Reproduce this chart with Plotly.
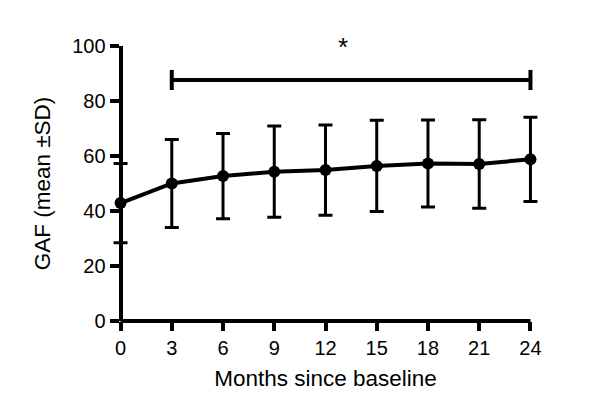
import plotly.graph_objects as go

# GAF over time (mean ± SD)
months = [0, 3, 6, 9, 12, 15, 18, 21, 24]
gaf_mean = [42.9, 50.0, 52.7, 54.3, 54.9, 56.4, 57.3, 57.1, 58.8]
gaf_sd = [14.4, 16.0, 15.5, 16.6, 16.4, 16.6, 15.8, 16.1, 15.3]

x_ticks = [0, 3, 6, 9, 12, 15, 18, 21, 24]
y_ticks = [0, 20, 40, 60, 80, 100]

# significance bracket: month 3 vs 24
bracket_x = [3, 24]
bracket_y = 87.6
bracket_cap = [84.0, 91.3]
star_label = '*'

FONT = 'Liberation Sans, Arial, sans-serif'

# pad the x range so the end error-bar caps are not clipped,
# then pin the y axis back onto x = 0
X_PAD = 0.5
x_range = [x_ticks[0] - X_PAD, x_ticks[-1] + X_PAD]
y_axis_pos = X_PAD / (x_range[1] - x_range[0])

fig = go.Figure()

fig.add_trace(go.Scatter(
    x=months,
    y=gaf_mean,
    mode='lines+markers',
    line=dict(color='black', width=4),
    marker=dict(color='black', size=12),
    error_y=dict(type='data', array=gaf_sd, visible=True,
                 color='black', thickness=3, width=7),
    cliponaxis=False,
    showlegend=False,
))

# bracket line
fig.add_trace(go.Scatter(
    x=bracket_x,
    y=[bracket_y, bracket_y],
    mode='lines',
    line=dict(color='black', width=4),
    cliponaxis=False,
    showlegend=False,
    hoverinfo='skip',
))
for bx in bracket_x:
    fig.add_shape(type='line', xref='x', yref='y',
                  x0=bx, x1=bx, y0=bracket_cap[0], y1=bracket_cap[1],
                  line=dict(color='black', width=4))

# x axis line only from 0 to 24
fig.add_shape(type='line', xref='x', yref='paper',
              x0=x_ticks[0], x1=x_ticks[-1], y0=0, y1=0,
              line=dict(color='black', width=4), layer='above')

fig.add_annotation(
    x=(bracket_x[0] + bracket_x[1]) / 2 - 0.5, y=99.5,
    text=star_label, showarrow=False,
    font=dict(size=26, color='black', family=FONT),
)

fig.update_layout(
    width=600, height=417,
    margin=dict(l=112, r=61, t=46, b=96),
    plot_bgcolor='white',
    paper_bgcolor='white',
    font=dict(family=FONT, color='black'),
)

fig.update_xaxes(
    range=x_range,
    tickvals=x_ticks,
    showline=False,
    ticks='outside', ticklen=9, tickwidth=3.5, tickcolor='black',
    showgrid=False, zeroline=False,
    tickfont=dict(size=20),
    title=dict(text='Months since baseline', font=dict(size=22.5), standoff=12),
)
fig.update_yaxes(
    range=[0, 100],
    tickvals=y_ticks,
    anchor='free', position=y_axis_pos,
    showline=True, linewidth=4, linecolor='black',
    ticks='outside', ticklen=9, tickwidth=3.5, tickcolor='black',
    showgrid=False, zeroline=False,
    tickfont=dict(size=20),
    title=dict(text='GAF (mean ±SD)', font=dict(size=22.5), standoff=14),
)

# page has a default body margin; drop it so the figure sits at 0,0
fig.write_html('out.html', config={'displayModeBar': False},
               post_script="document.body.style.margin='0';")
